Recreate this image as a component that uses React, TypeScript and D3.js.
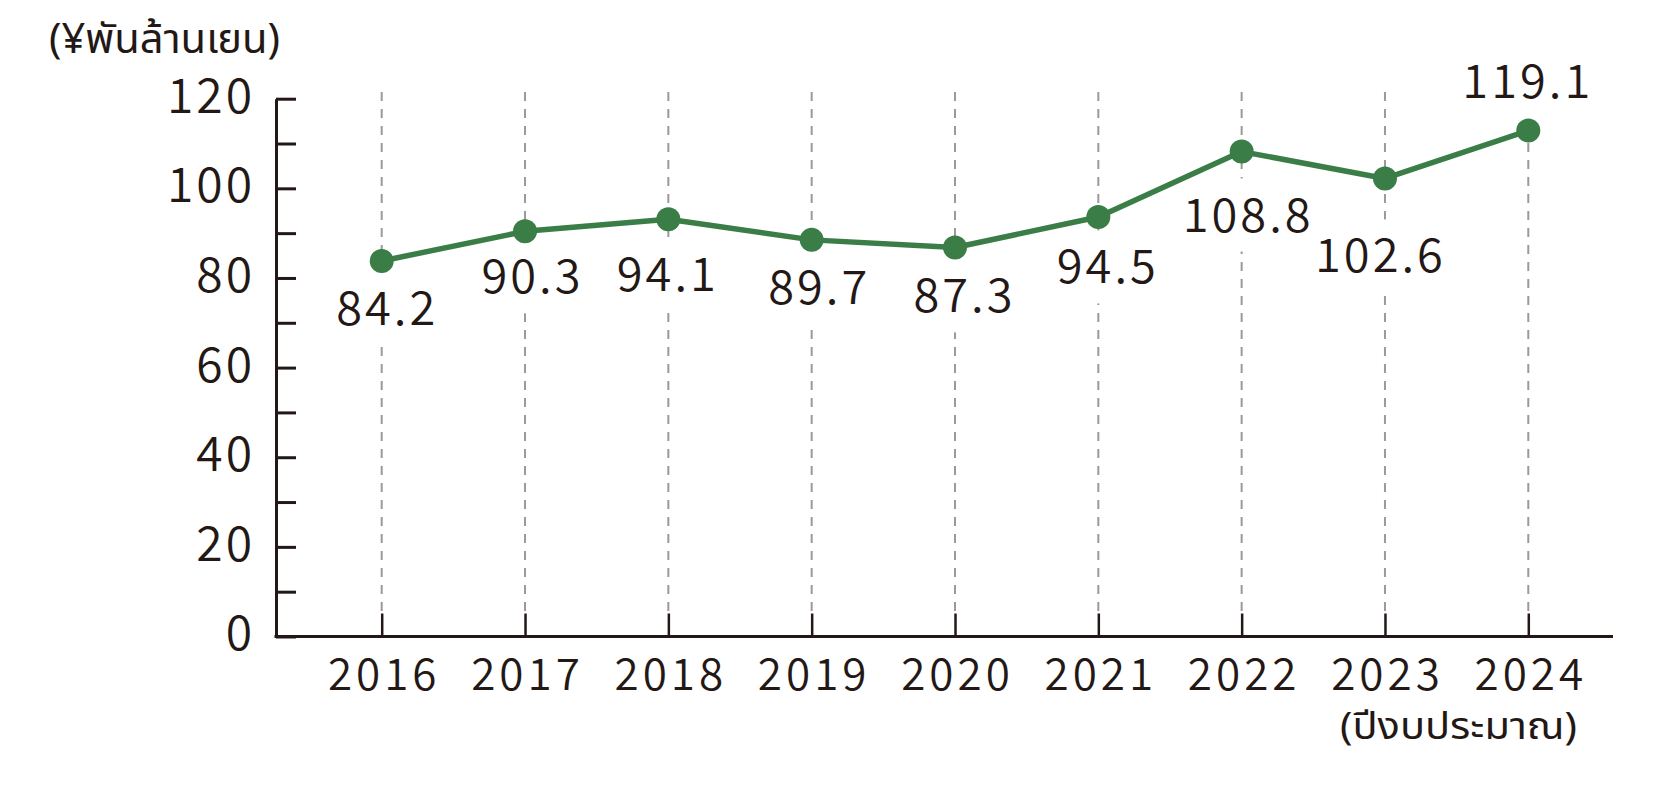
import React, { useEffect, useRef } from "react";
import * as d3 from "d3";

// ---- data ----
const years = ["2016", "2017", "2018", "2019", "2020", "2021", "2022", "2023", "2024"];
// marker heights as drawn in the chart
const plotted = [83.8, 90.4, 93.1, 88.5, 86.8, 93.6, 108.2, 102.2, 112.9];
// printed value labels
const valueLabels = ["84.2", "90.3", "94.1", "89.7", "87.3", "94.5", "108.8", "102.6", "119.1"];
const yTicks = [0, 10, 20, 30, 40, 50, 60, 70, 80, 90, 100, 110, 120];
const yUnit = "(¥พันล้านเยน)";
const xUnit = "(ปีงบประมาณ)";

// ---- layout (label offsets from the marker, px) ----
const labelDX = [4, 6, -2, 6, 8, 8, 5, -6, -2];
const labelDY = [47, 45, 55, 47.5, 48, 49.5, 63, 77, -49];

const W = 1678;
const H = 796;
const NUM_FONT = "'Noto Sans CJK JP', 'Noto Sans', sans-serif";
const THAI_FONT = "'Noto Sans Thai', 'Noto Sans Thai UI', 'Noto Sans', sans-serif";
const INK = "#231815";
const GREEN = "#3a7d47";

export default function App() {
  const ref = useRef<SVGSVGElement | null>(null);

  useEffect(() => {
    const svg = d3.select(ref.current);
    svg.selectAll("*").remove();

    const x = d3.scalePoint<string>().domain(years).range([381.7, 1528.3]);
    const y = d3.scaleLinear().domain([0, 120]).range([636.5, 98.7]);
    const axisX0 = 276;
    const axisX1 = 1613;

    // dashed vertical guides
    svg
      .append("g")
      .selectAll("line")
      .data(years)
      .join("line")
      .attr("x1", (d) => x(d)!)
      .attr("x2", (d) => x(d)!)
      .attr("y1", y(121.5))
      .attr("y2", y(0) - 23)
      .attr("stroke", "#9a9a9a")
      .attr("stroke-width", 2)
      .attr("stroke-dasharray", "9 8");

    // y axis
    const yAxis = d3
      .axisLeft(y)
      .tickValues(yTicks)
      .tickSizeInner(-20)
      .tickSizeOuter(0)
      .tickPadding(21)
      .tickFormat((d) => ((d as number) % 20 === 0 ? String(d) : ""));
    const gy = svg.append("g").attr("transform", `translate(${axisX0},0)`).call(yAxis);
    gy.select(".domain").attr("stroke", INK).attr("stroke-width", 3);
    gy.selectAll(".tick line").attr("stroke", INK).attr("stroke-width", 3);
    gy.selectAll(".tick text")
      .attr("fill", INK)
      .attr("dy", "0.28em")
      .style("font-family", NUM_FONT)
      .style("font-weight", 350)
      .style("font-size", "48px")
      .style("letter-spacing", "3px");

    // x axis
    const xAxis = d3.axisBottom(x).tickSizeInner(-23).tickSizeOuter(0).tickPadding(0);
    const gx = svg.append("g").attr("transform", `translate(0,${y(0)})`).call(xAxis);
    gx.select(".domain").remove();
    gx.selectAll(".tick line").attr("stroke", INK).attr("stroke-width", 2.5);
    gx.selectAll(".tick text")
      .attr("fill", INK)
      .attr("y", 53.5)
      .attr("dy", 0)
      .attr("dx", 2)
      .style("font-family", NUM_FONT)
      .style("font-weight", 350)
      .style("font-size", "44px")
      .style("letter-spacing", "4px");
    svg
      .append("line")
      .attr("x1", axisX0 - 1.5)
      .attr("x2", axisX1)
      .attr("y1", y(0))
      .attr("y2", y(0))
      .attr("stroke", INK)
      .attr("stroke-width", 3);

    // value labels with white knock-out boxes
    const lg = svg.append("g");
    years.forEach((yr, i) => {
      const g = lg.append("g");
      const rect = g.append("rect").attr("fill", "#fff");
      const t = g
        .append("text")
        .attr("x", x(yr)! + labelDX[i] + 1.5)
        .attr("y", y(plotted[i]) + labelDY[i])
        .attr("dy", "0.36em")
        .attr("text-anchor", "middle")
        .attr("fill", INK)
        .style("font-family", NUM_FONT)
        .style("font-weight", 350)
        .style("font-size", "47px")
        .style("letter-spacing", "3px")
        .text(valueLabels[i]);
      const bb = (t.node() as SVGTextElement).getBBox();
      rect
        .attr("x", bb.x - 4)
        .attr("y", bb.y + 2)
        .attr("width", bb.width + 8)
        .attr("height", bb.height + 4);
    });

    // line
    const line = d3
      .line<number>()
      .x((_, i) => x(years[i])!)
      .y((d) => y(d));
    svg
      .append("path")
      .datum(plotted)
      .attr("d", line)
      .attr("fill", "none")
      .attr("stroke", GREEN)
      .attr("stroke-width", 5.5)
      .attr("stroke-linejoin", "round");

    svg
      .append("g")
      .selectAll("circle")
      .data(plotted)
      .join("circle")
      .attr("cx", (_, i) => x(years[i])!)
      .attr("cy", (d) => y(d))
      .attr("r", 12)
      .attr("fill", GREEN);

    // unit labels
    svg
      .append("text")
      .attr("x", 49)
      .attr("y", 53)
      .attr("fill", INK)
      .attr("textLength", 231)
      .attr("lengthAdjust", "spacingAndGlyphs")
      .style("font-family", THAI_FONT)
      .style("font-weight", 400)
      .style("font-size", "41px")
      .text(yUnit);
    svg
      .append("text")
      .attr("x", 1340)
      .attr("y", 739)
      .attr("fill", INK)
      .attr("textLength", 237)
      .attr("lengthAdjust", "spacingAndGlyphs")
      .style("font-family", THAI_FONT)
      .style("font-weight", 400)
      .style("font-size", "38px")
      .text(xUnit);
  }, []);

  return (
    <svg
      ref={ref}
      width={W}
      height={H}
      style={{ position: "absolute", left: 0, top: 0, background: "#fff" }}
    />
  );
}
